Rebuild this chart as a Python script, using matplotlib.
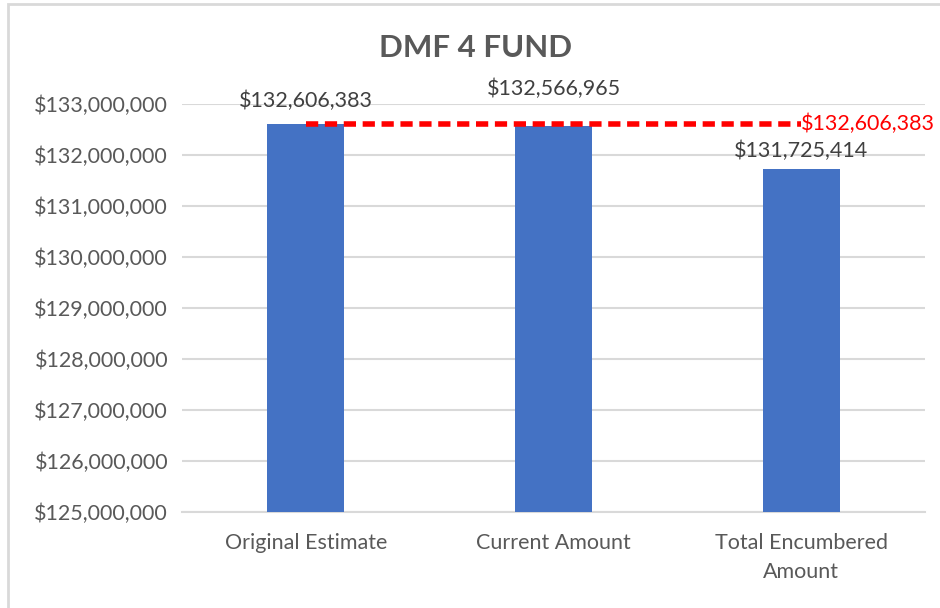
import matplotlib
matplotlib.use("Agg")
import matplotlib.pyplot as plt
from matplotlib.patches import Rectangle
from matplotlib.ticker import FuncFormatter

# Chart data
categories = ["Original Estimate", "Current Amount", "Total Encumbered\nAmount"]
amounts = [132606383, 132566965, 131725414]
reference_value = 132606383
y_ticks = [125000000, 126000000, 127000000, 128000000, 129000000,
           130000000, 131000000, 132000000, 133000000]

plt.rcParams["font.family"] = ["Lato", "DejaVu Sans"]

fig = plt.figure(figsize=(9.4, 6.08), dpi=100)
ax = fig.add_axes([182 / 940, 1 - 512 / 608, (925 - 182) / 940, (512 - 104) / 608])

x = list(range(len(categories)))
ax.bar(x, amounts, width=0.31, color="#4472C4", zorder=3)

# reference dashed line from first bar to last bar
ax.plot([x[0], x[-1]], [reference_value, reference_value], color="#FF0000",
        linestyle=(0, (2.2, 1.2)), linewidth=4, zorder=4)
ax.annotate("${:,.0f}".format(reference_value), (x[-1], reference_value),
            xytext=(0, 0), textcoords="offset points", ha="left", va="center",
            color="#FF0000", fontsize=15.5, zorder=5, annotation_clip=False)

# value labels (offsets as in the original)
offsets = [17, 27, 13]
for xi, val, off in zip(x, amounts, offsets):
    ax.annotate("${:,.0f}".format(val), (xi, val), xytext=(0, off),
                textcoords="offset points", ha="center", va="center",
                color="#404040", fontsize=15.5, annotation_clip=False)

ax.set_xlim(-0.5, 2.5)
ax.set_ylim(125000000, 133000000)
ax.set_yticks(y_ticks)
ax.yaxis.set_major_formatter(FuncFormatter(lambda v, p: "${:,.0f}".format(v)))
ax.set_xticks(x)
ax.set_xticklabels(categories, linespacing=1.6)
ax.tick_params(axis="both", length=0, labelsize=15.5, colors="#595959")
ax.tick_params(axis="x", pad=15)
ax.tick_params(axis="y", pad=10)
ax.grid(axis="y", color="#D9D9D9", linewidth=1.5, zorder=0)
for side in ["top", "right", "left"]:
    ax.spines[side].set_visible(False)
ax.spines["bottom"].set_color("#D9D9D9")
ax.spines["bottom"].set_linewidth(1.5)

fig.text(476 / 940, 1 - 48 / 608, "DMF 4 FUND", ha="center", va="center",
         fontsize=22.5, fontweight="bold", color="#595959")

# outer chart frame
fig.patches.append(Rectangle((8 / 940, -0.05), 1.2, 1 - 4 / 608 + 0.05,
                             transform=fig.transFigure, fill=False,
                             edgecolor="#D9D9D9", linewidth=2))

fig.savefig("out.png", dpi=100)
